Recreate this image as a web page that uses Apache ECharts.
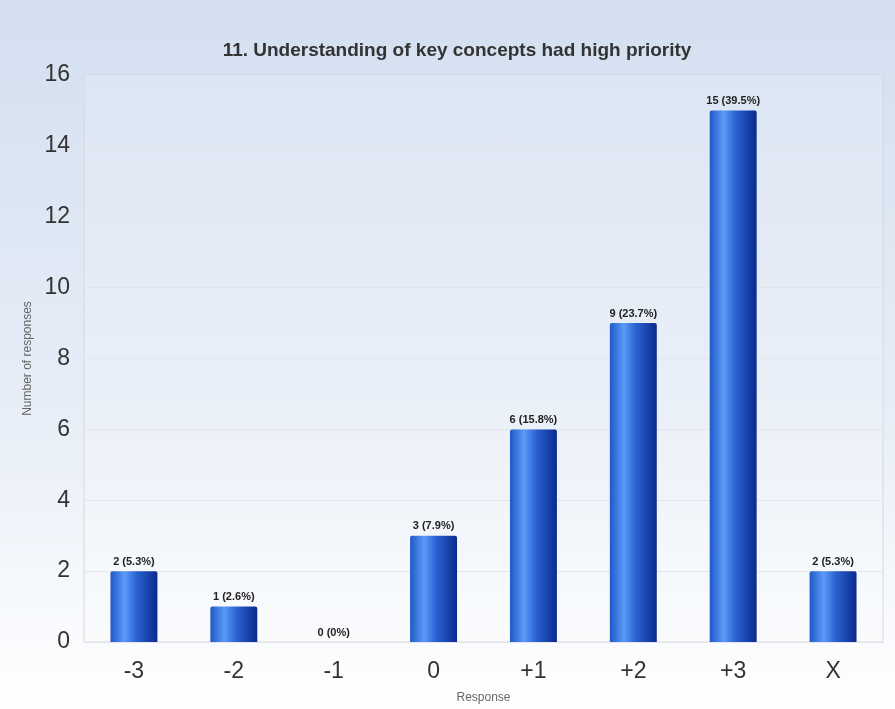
<!DOCTYPE html>
<html>
<head>
<meta charset="utf-8">
<script src="https://cdn.jsdelivr.net/npm/echarts@6/dist/echarts.min.js"></script>
<style>
html,body{margin:0;padding:0;}
#chart{width:895px;height:709px;background:linear-gradient(to bottom,#d3dff0 0%,#e6edf7 55%,#ffffff 100%);}
</style>
</head>
<body>
<div id="chart"></div>
<script>
const categories = ['-3','-2','-1','0','+1','+2','+3','X'];
const counts = [2,1,0,3,6,9,15,2];
const percents = ['5.3%','2.6%','0%','7.9%','15.8%','23.7%','39.5%','5.3%'];
const yTicks = [0,2,4,6,8,10,12,14,16];

const chart = echarts.init(document.getElementById('chart'), null, {renderer:'canvas'});
const barColor = new echarts.graphic.LinearGradient(0,0,1,0,[
  {offset:0,color:'#2058c8'},
  {offset:0.3,color:'#5a9bf8'},
  {offset:0.55,color:'#2a63d2'},
  {offset:1,color:'#0a2a8c'}
]);
chart.setOption({
  animation:false,
  title:{text:'11. Understanding of key concepts had high priority',left:452,top:36,textAlign:'center',
    textStyle:{fontFamily:'Liberation Sans Narrow, Arial Narrow, sans-serif',fontWeight:'bold',fontSize:19,color:'#333'}},
  grid:{left:84,right:12,top:75,bottom:66,show:true,borderColor:'#d8d8d8',borderWidth:1,backgroundColor:'rgba(255,255,255,0.15)'},
  xAxis:{type:'category',data:categories,
    name:'Response',nameLocation:'middle',nameGap:50,
    nameTextStyle:{fontFamily:'Liberation Sans, Arial, sans-serif',fontSize:12,color:'#666'},
    axisLine:{show:false},axisTick:{show:false},
    axisLabel:{fontFamily:'Liberation Sans, Arial, sans-serif',fontSize:23,color:'#333',margin:18}},
  yAxis:{type:'value',min:yTicks[0],max:yTicks[yTicks.length-1],interval:2,
    name:'Number of responses',nameLocation:'middle',nameGap:48,nameRotate:90,
    nameTextStyle:{fontFamily:'Liberation Sans, Arial, sans-serif',fontSize:12,color:'#666'},
    axisLine:{show:false},axisTick:{show:false},
    axisLabel:{fontFamily:'Liberation Sans, Arial, sans-serif',fontSize:23,color:'#333',margin:14},
    splitLine:{lineStyle:{color:'#e2e6ec',width:1}}},
  series:[{type:'bar',data:counts,barWidth:'47%',
    itemStyle:{color:barColor,borderRadius:[2,2,0,0]},
    label:{show:true,position:'top',distance:4,
      formatter:p=>p.value+' ('+percents[p.dataIndex]+')',
      fontFamily:'Liberation Sans, Arial, sans-serif',fontWeight:'bold',fontSize:11,color:'#222'}}]
});
</script>
</body>
</html>
